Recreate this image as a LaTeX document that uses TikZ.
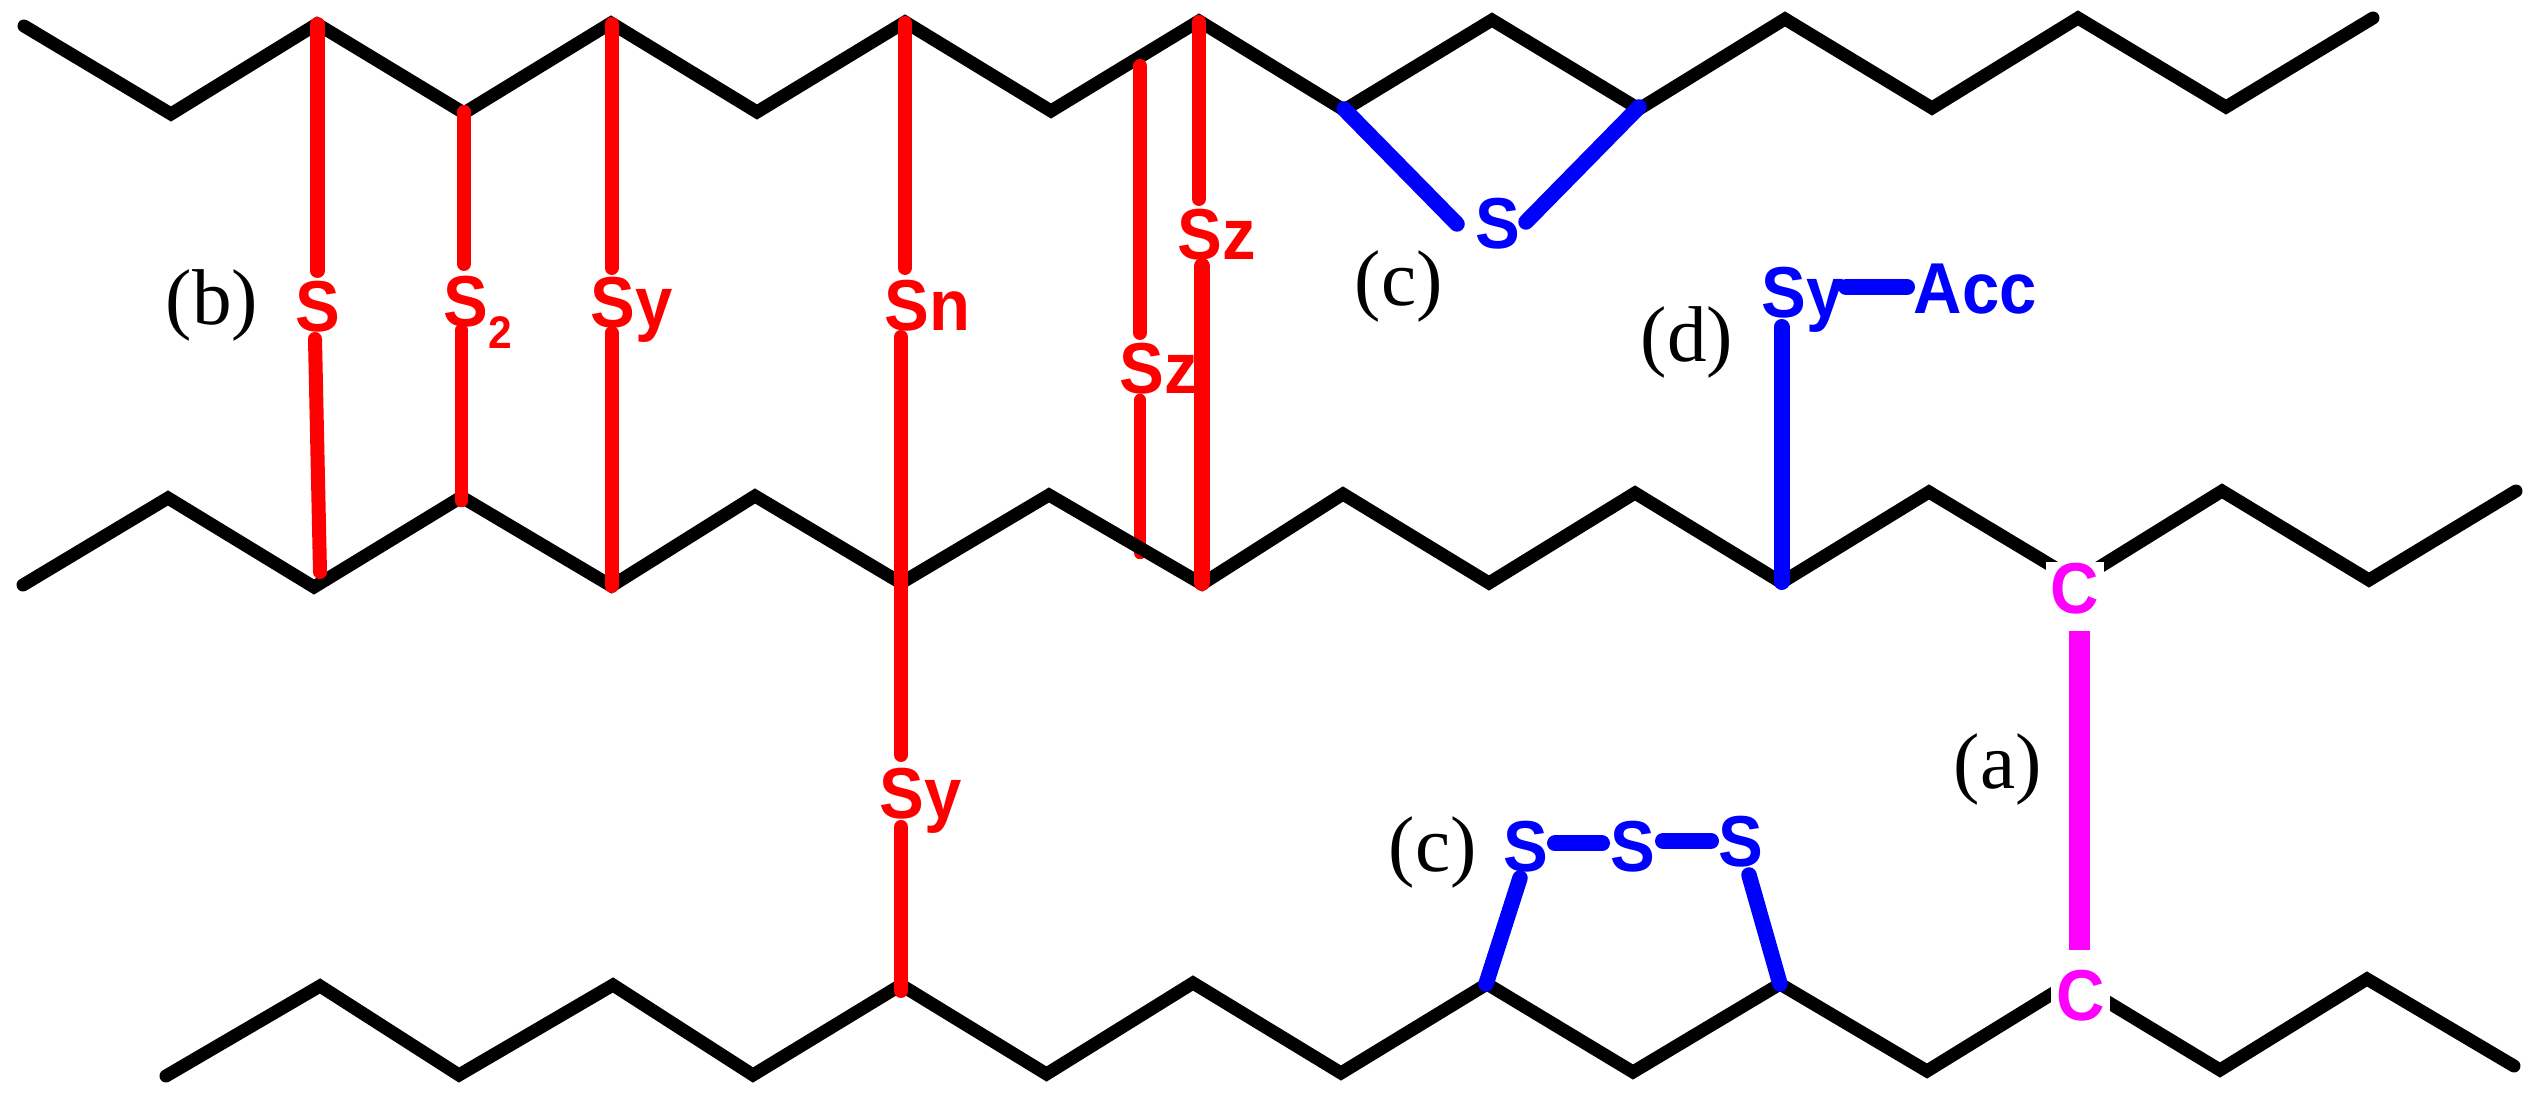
\documentclass[tikz,border=0pt]{standalone}
\usepackage{fontspec}
\newfontfamily\atomfont[FakeStretch=0.93,BoldFont={Liberation Sans Bold}]{Liberation Sans}
\newfontfamily\tagfont{Liberation Serif}
\definecolor{redbond}{RGB}{255,0,0}
\definecolor{bluebond}{RGB}{0,0,255}
\definecolor{magbond}{RGB}{255,0,255}
\tikzset{
  chainline/.style={draw=black,line width=0.13cm,line cap=round,miter limit=10},
  redline/.style={draw=redbond,line width=0.14cm,line cap=round},
  redthin/.style={draw=redbond,line width=0.125cm,line cap=round},
  blueline/.style={draw=bluebond,line width=0.155cm,line cap=round},
  bluefat/.style={draw=bluebond,line width=0.16cm,line cap=round},
  magline/.style={draw=magbond,line width=0.21cm,line cap=butt},
  atomtext/.style={font=\atomfont\bfseries\fontsize{20.5pt}{24pt}\selectfont,inner sep=0pt,anchor=base west},
  redatom/.style={atomtext,text=redbond},
  blueatom/.style={atomtext,text=bluebond},
  magatom/.style={atomtext,text=magbond,anchor=base,fill=white,minimum width=0.58cm,inner ysep=0.5pt},
  tagtext/.style={font=\tagfont\fontsize{22.5pt}{26pt}\selectfont,inner sep=0pt,anchor=base west,text=black}
}
\begin{document}
\begin{tikzpicture}[x=0.01cm,y=-0.01cm]
\useasboundingbox (0,0) rectangle (2535,1098);
\fill[white] (0,0) rectangle (2535,1098);

% connector ends
\coordinate (sa) at (317.5,24);   \coordinate (sb) at (317.5,271);
\coordinate (sc) at (315,339);    \coordinate (sd) at (320,572);
\coordinate (ta) at (464,112);    \coordinate (tb) at (464,264);
\coordinate (tc) at (461.5,330);  \coordinate (td) at (461.5,501);
\coordinate (ya) at (611.5,24);   \coordinate (yb) at (611.5,268);
\coordinate (yc) at (611.5,333);  \coordinate (yd) at (611.5,586);
\coordinate (na) at (905,23);     \coordinate (nb) at (905,268);
\coordinate (nc) at (901,337);    \coordinate (nd) at (901,755);
\coordinate (ne) at (901,827);    \coordinate (nf) at (901,991);
\coordinate (za) at (1199,22);    \coordinate (zb) at (1199,199);
\coordinate (zc) at (1202,266);   \coordinate (zd) at (1202,583);
\coordinate (wa) at (1140,66);    \coordinate (wb) at (1140,333);
\coordinate (wc) at (1140,400);   \coordinate (wd) at (1140,553);
\coordinate (ba) at (1344,109);   \coordinate (bb) at (1457,224);
\coordinate (bc) at (1639,107);   \coordinate (bd) at (1526,222);
\coordinate (ca) at (1781.5,327); \coordinate (cb) at (1781.5,582);
\coordinate (da) at (1846,287);   \coordinate (db) at (1907,287);
\coordinate (ea) at (1555,843.5); \coordinate (eb) at (1602,843.5);
\coordinate (fa) at (1663,841);   \coordinate (fb) at (1711,841);
\coordinate (ga) at (1520,878);   \coordinate (gb) at (1486,984);
\coordinate (ha) at (1749,875);   \coordinate (hb) at (1780,984);
\coordinate (ma) at (2079,631);   \coordinate (mb) at (2079,950);

% this red bond lies behind the chain
\draw[redthin] (wc) -- (wd);

% chains
\draw[chainline] (24,26) -- (171,114) -- (317,24) -- (464,113) -- (611,23) -- (757,112) -- (905,22) -- (1051,111) -- (1199,21) -- (1344,110) -- (1492,20) -- (1639,109) -- (1785,19) -- (1932,108) -- (2078,18) -- (2226,107) -- (2373,18);
\draw[chainline] (23,585) -- (168,498) -- (314,587) -- (461.5,497) -- (611.5,586) -- (755,496) -- (901,583) -- (1049,495) -- (1202,584) -- (1343,494) -- (1489,583) -- (1635,493) -- (1781.5,582.5) -- (1929,492) -- (2077,581) -- (2222,491) -- (2369,580) -- (2516,491);
\draw[chainline] (166,1076) -- (320,986) -- (459,1075) -- (613,985) -- (753,1075) -- (901,985) -- (1046.5,1074) -- (1193,983) -- (1341,1073) -- (1487,984) -- (1633,1072) -- (1780,984) -- (1927,1071) -- (2073,981) -- (2220,1070) -- (2367,979) -- (2514,1066);

% red bonds
\draw[redline] (sa) -- (sb);
\draw[redline] (sc) -- (sd);
\draw[redline] (ta) -- (tb);
\draw[redthin] (tc) -- (td);
\draw[redline] (ya) -- (yb);
\draw[redline] (yc) -- (yd);
\draw[redline] (na) -- (nb);
\draw[redline] (nc) -- (nd);
\draw[redline] (ne) -- (nf);
\draw[redline] (wa) -- (wb);
\draw[redline] (za) -- (zb);

% red atoms
\node[redatom] (s1) at (295,332) {S};
\node[redatom] (s2) at (443,327) {S\raisebox{-6.2pt}{\fontsize{13pt}{15pt}\selectfont 2}};
\node[redatom] (sy1) at (590,328) {Sy};
\node[redatom] (sn) at (884,331) {Sn};
\node[redatom] (sz1) at (1177,260) {Sz};
\node[redatom] (sz2) at (1119,394) {Sz};
\node[redatom] (sy2) at (879,819) {Sy};
\draw[redline,line width=0.16cm] (zc) -- (zd);

% blue bonds
\draw[blueline] (ba) -- (bb);
\draw[blueline] (bc) -- (bd);
\draw[bluefat] (ca) -- (cb);
\draw[bluefat] (da) -- (db);
\draw[bluefat] (ea) -- (eb);
\draw[bluefat] (fa) -- (fb);
\draw[blueline] (ga) -- (gb);
\draw[blueline] (ha) -- (hb);

% blue atoms
\node[blueatom] (b1) at (1475,249) {S};
\node[blueatom] (b2) at (1761,318) {Sy};
\node[blueatom] (acc) at (1913,314) {Acc};
\node[blueatom] (b3) at (1503,871.5) {S};
\node[blueatom] (b4) at (1610,871.5) {S};
\node[blueatom] (b5) at (1718,867) {S};

% magenta link
\draw[magline] (ma) -- (mb);
\node[magatom] (c1) at (2075,614) {C};
\node[magatom] (c2) at (2080.5,1021) {C};

% tags
\node[tagtext] (tb1) at (165,325) {(b)};
\node[tagtext] (tc1) at (1354,306) {(c)};
\node[tagtext] (td1) at (1640,362) {(d)};
\node[tagtext] (ta1) at (1953,789) {(a)};
\node[tagtext] (tc2) at (1388,872) {(c)};
\end{tikzpicture}
\end{document}
